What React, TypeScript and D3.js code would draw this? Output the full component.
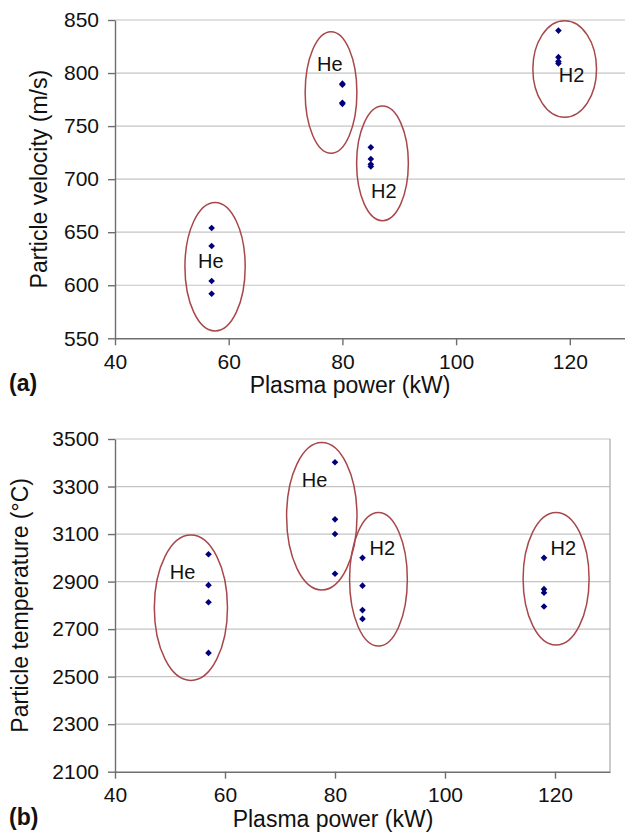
import React, { useEffect, useRef } from 'react';
import * as d3 from 'd3';

// plasma power groups (kW) and the gas used
const powerKW = [57, 80, 85, 118];
const gasLabels = ['He', 'He', 'H2', 'H2'];

// (a) particle velocity, m/s, four shots per group
const velocityMs = [
    [654, 637, 604, 592],
    [790, 789, 772, 771],
    [730, 719, 714, 712],
    [840, 815, 811, 809],
];

// (b) particle temperature, °C
const temperatureC = [
    [3015, 2885, 2813, 2600],
    [3402, 3162, 3100, 2933],
    [3000, 2883, 2780, 2743],
    [3000, 2868, 2853, 2795],
];

const xTicks = [40, 60, 80, 100, 120];
const velocityTicks = [550, 600, 650, 700, 750, 800, 850];
const temperatureTicks = [2100, 2300, 2500, 2700, 2900, 3100, 3300, 3500];

// hand-drawn ellipses round each group, in data units: [cx, cy, rx, ry]
const velocityRings = [
    [57.6, 617.5, 5.3, 60.6],
    [78.0, 781.7, 4.55, 57.3],
    [87.05, 714.9, 4.55, 54],
    [119.1, 803.8, 5.6, 45.5],
];
const temperatureRings = [
    [53.8, 2790, 6.65, 306],
    [77.6, 3175, 6.4, 310],
    [87.9, 2910, 5.25, 281],
    [120.2, 2912, 6.0, 279],
];

// gas label anchor points, data units: [x, y]
const velocityLabelAt = [
    [56.85, 616],
    [77.8, 802],
    [87.3, 682.5],
    [120.3, 791.8],
];
const temperatureLabelAt = [
    [52.3, 2911],
    [76.3, 3299],
    [88.6, 3012],
    [121.5, 3012],
];

const FONT = '"Liberation Sans", Arial, Helvetica, sans-serif';

const drawPanel = (svg, opts) => {
    const { values, yDomain, yTicks, xRange, yRange, rings, labelAt, yTitle, tag, yTitleX, titleX, box } = opts;

    const x = d3.scaleLinear().domain([40, 130]).range(xRange);
    const y = d3.scaleLinear().domain(yDomain).range(yRange);

    const g = svg.append('g');

    // gridlines
    g.selectAll('.grid')
        .data(yTicks.slice(1))
        .enter()
        .append('line')
        .attr('x1', x(40))
        .attr('x2', x(130))
        .attr('y1', (d) => y(d))
        .attr('y2', (d) => y(d))
        .attr('stroke', '#c4c4c4')
        .attr('stroke-width', 1.2);

    if (box) {
        g.append('line')
            .attr('x1', x(130))
            .attr('x2', x(130))
            .attr('y1', y(yDomain[0]))
            .attr('y2', y(yDomain[1]))
            .attr('stroke', '#a8a8a8')
            .attr('stroke-width', 1.2);
    }

    const axisStyle = (sel) => {
        sel.select('.domain').attr('stroke', '#6e6e6e').attr('stroke-width', 1.4);
        sel.selectAll('.tick line').attr('stroke', '#6e6e6e').attr('stroke-width', 1.4);
        sel.selectAll('.tick text')
            .attr('fill', '#111')
            .style('font-family', FONT)
            .style('font-size', '21px');
    };

    g.append('g')
        .attr('transform', `translate(0,${y(yDomain[0])})`)
        .call(d3.axisBottom(x).tickValues(xTicks).tickSize(7).tickSizeOuter(0).tickPadding(9))
        .call(axisStyle)
        .call((s) => s.selectAll('.tick text').attr('dy', '0.68em'));

    g.append('g')
        .attr('transform', `translate(${x(40)},0)`)
        .call(
            d3
                .axisLeft(y)
                .tickValues(yTicks)
                .tickFormat(d3.format('d'))
                .tickSize(7)
                .tickSizeOuter(0)
                .tickPadding(9)
        )
        .call(axisStyle);

    // rings
    g.selectAll('.ring')
        .data(rings)
        .enter()
        .append('ellipse')
        .attr('cx', (d) => x(d[0]))
        .attr('cy', (d) => y(d[1]))
        .attr('rx', (d) => x(d[0] + d[2]) - x(d[0]))
        .attr('ry', (d) => y(d[1] - d[3]) - y(d[1]))
        .attr('fill', 'none')
        .attr('stroke', '#a8474a')
        .attr('stroke-width', 1.5);

    // points
    const pts = values.flatMap((vals, i) => vals.map((v) => ({ p: powerKW[i], v })));
    const diamond = d3.symbol().type(d3.symbolSquare).size(22);
    g.selectAll('.pt')
        .data(pts)
        .enter()
        .append('path')
        .attr('d', diamond)
        .attr('transform', (d) => `translate(${x(d.p)},${y(d.v)}) rotate(45)`)
        .attr('fill', '#00007a');

    // gas labels
    g.selectAll('.gas')
        .data(labelAt)
        .enter()
        .append('text')
        .attr('x', (d) => x(d[0]))
        .attr('y', (d) => y(d[1]))
        .attr('text-anchor', 'middle')
        .style('font-family', FONT)
        .style('font-size', '20px')
        .attr('fill', '#111')
        .text((d, i) => gasLabels[i]);

    const base = y(yDomain[0]);

    // x title
    g.append('text')
        .attr('x', titleX)
        .attr('y', base + 55)
        .attr('text-anchor', 'middle')
        .style('font-family', FONT)
        .style('font-size', '23px')
        .attr('fill', '#111')
        .text('Plasma power (kW)');

    // y title
    const yMid = (y(yDomain[0]) + y(yDomain[1])) / 2;
    g.append('text')
        .attr('transform', `translate(${yTitleX},${yMid}) rotate(-90)`)
        .attr('text-anchor', 'middle')
        .style('font-family', FONT)
        .style('font-size', '23px')
        .attr('fill', '#111')
        .text(yTitle);

    // panel tag
    g.append('text')
        .attr('x', 9)
        .attr('y', base + 53)
        .style('font-family', FONT)
        .style('font-size', '23px')
        .style('font-weight', 'bold')
        .attr('fill', '#111')
        .text(tag);
};

const App = () => {
    const svgRef = useRef(null);

    useEffect(() => {
        const svg = d3.select(svgRef.current);
        svg.selectAll('*').remove();

        drawPanel(svg, {
            values: velocityMs,
            yDomain: [550, 850],
            yTicks: velocityTicks,
            xRange: [115, 115 + 90 * 5.685],
            yRange: [338.3, 20],
            rings: velocityRings,
            labelAt: velocityLabelAt,
            yTitle: 'Particle velocity (m/s)',
            yTitleX: 47,
            titleX: 350,
            tag: '(a)',
            box: false,
        });

        drawPanel(svg, {
            values: temperatureC,
            yDomain: [2100, 3500],
            yTicks: temperatureTicks,
            xRange: [115, 610],
            yRange: [771.7, 439],
            rings: temperatureRings,
            labelAt: temperatureLabelAt,
            yTitle: 'Particle temperature (°C)',
            yTitleX: 28,
            titleX: 333,
            tag: '(b)',
            box: true,
        });
    }, []);

    return (
        <div style={{ position: 'absolute', left: 0, top: 0, width: 625, height: 833, background: '#fff' }}>
            <svg ref={svgRef} width={625} height={833} style={{ display: 'block' }} />
        </div>
    );
};

export default App;
